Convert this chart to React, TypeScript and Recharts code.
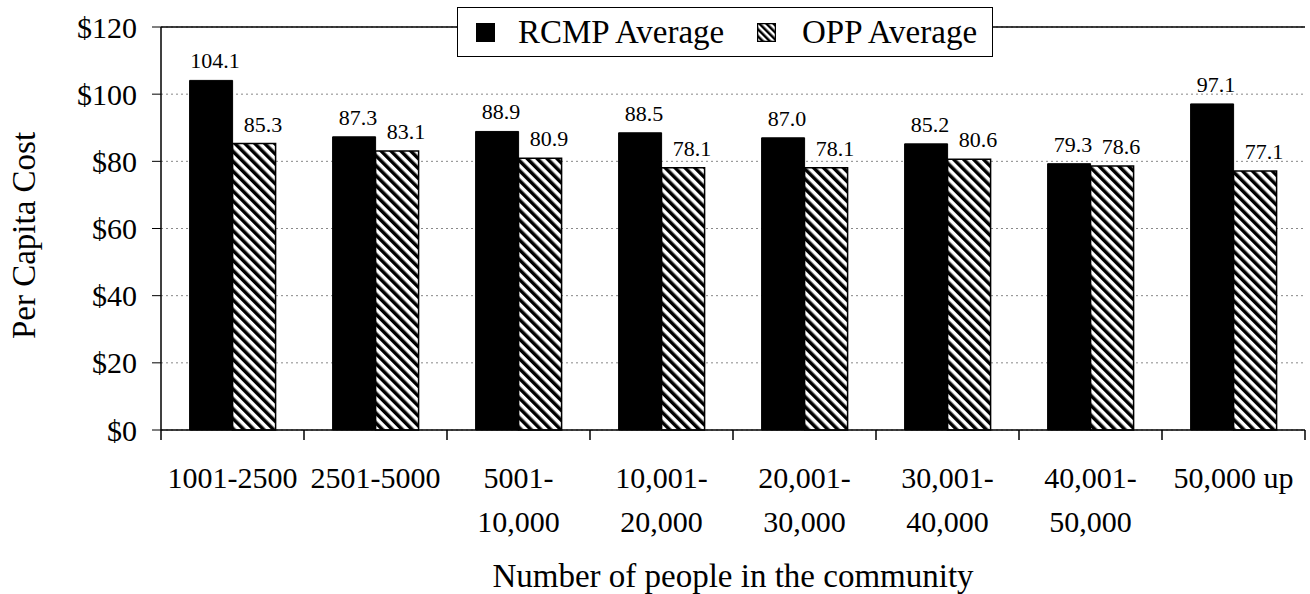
import React from 'react';
import {
  BarChart,
  Bar,
  XAxis,
  YAxis,
  CartesianGrid,
  Legend,
  LabelList,
  ReferenceLine,
} from 'recharts';

const categories = [
  '1001-2500',
  '2501-5000',
  '5001-\n10,000',
  '10,001-\n20,000',
  '20,001-\n30,000',
  '30,001-\n40,000',
  '40,001-\n50,000',
  '50,000 up',
];
const rcmpAverage = [104.1, 87.3, 88.9, 88.5, 87.0, 85.2, 79.3, 97.1];
const oppAverage = [85.3, 83.1, 80.9, 78.1, 78.1, 80.6, 78.6, 77.1];
const yTicks = [0, 20, 40, 60, 80, 100, 120];

const data = categories.map((c, i) => ({
  name: c,
  rcmp: rcmpAverage[i],
  opp: oppAverage[i],
}));

const seriesOrder = ['rcmp', 'opp'];

const FONT = '"Liberation Serif", "Times New Roman", serif';

// category label plus tick marks at the band edges (offset = half bandwidth)
function CategoryTick(props: any) {
  const { x, y, payload, index, visibleTicksCount } = props;
  const lines = String(payload.value).split('\n');
  const half = payload.offset || 0;
  const isLast = index === visibleTicksCount - 1;
  return (
    <g>
      {half > 0 && (
        <line x1={x - half} x2={x - half} y1={y} y2={y + 10} stroke="#000" strokeWidth={1.5} />
      )}
      {half > 0 && isLast && (
        <line x1={x + half} x2={x + half} y1={y} y2={y + 10} stroke="#000" strokeWidth={1.5} />
      )}
      <text x={x} y={y} textAnchor="middle" fontFamily={FONT} fontSize={30} fill="#000">
        {lines.map((l, i) => (
          <tspan key={i} x={x} dy={i === 0 ? 58 : 44}>
            {l}
          </tspan>
        ))}
      </text>
    </g>
  );
}

function renderYTitle(props: any) {
  const { viewBox } = props;
  const x = viewBox.x + 35;
  const y = viewBox.y + viewBox.height / 2 + 7;
  return (
    <text
      x={x}
      y={y}
      transform={`rotate(-90, ${x}, ${y})`}
      textAnchor="middle"
      fontFamily={FONT}
      fontSize={33}
      fill="#000"
    >
      Per Capita Cost
    </text>
  );
}

function renderXTitle(props: any) {
  const { viewBox } = props;
  return (
    <text
      x={viewBox.x + viewBox.width / 2}
      y={viewBox.y + viewBox.height - 7}
      textAnchor="middle"
      fontFamily={FONT}
      fontSize={33}
      fill="#000"
    >
      Number of people in the community
    </text>
  );
}

function LegendSwatch({ hatched }: { hatched: boolean }) {
  return (
    <svg width={19} height={19} style={{ display: 'block' }}>
      <defs>
        <pattern
          id="legendHatch"
          width={5}
          height={5}
          patternUnits="userSpaceOnUse"
          patternTransform="rotate(-45)"
        >
          <rect width={5} height={5} fill="#fff" />
          <rect width={2.5} height={5} fill="#000" />
        </pattern>
      </defs>
      <rect
        x={0.5}
        y={0.5}
        width={18}
        height={18}
        fill={hatched ? 'url(#legendHatch)' : '#000'}
        stroke="#000"
        strokeWidth={1.5}
      />
    </svg>
  );
}

function LegendBox(props: any) {
  const payload = [...(props.payload || [])].sort(
    (a: any, b: any) => seriesOrder.indexOf(a.dataKey) - seriesOrder.indexOf(b.dataKey)
  );
  return (
    <div
      style={{
        width: '100%',
        height: '100%',
        boxSizing: 'border-box',
        border: '1px solid #000',
        background: '#fff',
        display: 'flex',
        alignItems: 'center',
        paddingLeft: 18,
        fontFamily: FONT,
        fontSize: 33,
        color: '#000',
      }}
    >
      {payload.map((entry: any, i: number) => (
        <div
          key={entry.value}
          style={{
            display: 'flex',
            alignItems: 'center',
            width: i === 0 ? 281 : undefined,
          }}
        >
          <LegendSwatch hatched={entry.dataKey === 'opp'} />
          <span style={{ marginLeft: i === 0 ? 23 : 26, whiteSpace: 'nowrap' }}>
            {entry.value}
          </span>
        </div>
      ))}
    </div>
  );
}

export default function App() {
  return (
    <div style={{ position: 'absolute', left: 0, top: 0, background: '#fff' }}>
      <BarChart
        width={1310}
        height={594}
        data={data}
        margin={{ top: 27, right: 5, bottom: 0, left: 0 }}
        barCategoryGap="20%"
        barGap={0}
      >
        <defs>
          <pattern
            id="hatch"
            width={7}
            height={7}
            patternUnits="userSpaceOnUse"
            patternTransform="rotate(-45)"
          >
            <rect width={7} height={7} fill="#fff" />
            <rect width={3.5} height={7} fill="#000" />
          </pattern>
        </defs>
        <XAxis
          xAxisId="edges"
          type="number"
          domain={[0, categories.length]}
          hide
          allowDataOverflow
        />
        <XAxis
          xAxisId="cat"
          dataKey="name"
          height={164}
          tickLine={false}
          tickSize={0}
          tickMargin={0}
          axisLine={{ stroke: '#000', strokeWidth: 1.5 }}
          tick={<CategoryTick />}
          interval={0}
          label={renderXTitle}
        />
        <YAxis
          width={161}
          domain={[0, 120]}
          ticks={yTicks}
          interval={0}
          tickFormatter={(v) => `$${v}`}
          tickSize={9}
          tickMargin={15}
          tick={{ fill: '#000', fontFamily: FONT, fontSize: 30 }}
          tickLine={{ stroke: '#000' }}
          axisLine={{ stroke: '#000', strokeWidth: 1.5 }}
          label={renderYTitle}
        />
        <CartesianGrid
          xAxisId="cat"
          vertical={false}
          stroke="#888"
          strokeDasharray="2 3"
        />
        <ReferenceLine xAxisId="cat" y={120} stroke="#000" strokeWidth={1.5} />
        <ReferenceLine xAxisId="edges" x={categories.length} stroke="#000" strokeWidth={1.5} />
        <Legend
          layout="horizontal"
          verticalAlign="middle"
          align="center"
          width={536}
          height={50}
          wrapperStyle={{ left: 457, top: 7, width: 536, height: 50 }}
          content={<LegendBox />}
        />
        <Bar
          xAxisId="cat"
          dataKey="rcmp"
          name="RCMP Average"
          fill="#000"
          stroke="#000"
          isAnimationActive={false}
        >
          <LabelList
            dataKey="rcmp"
            position="top"
            offset={12}
            dx={4}
            formatter={(v: any) => Number(v).toFixed(1)}
            fill="#000"
            fontFamily={FONT}
            fontSize={22}
          />
        </Bar>
        <Bar
          xAxisId="cat"
          dataKey="opp"
          name="OPP Average"
          fill="url(#hatch)"
          stroke="#000"
          strokeWidth={1.5}
          isAnimationActive={false}
        >
          <LabelList
            dataKey="opp"
            position="top"
            offset={12}
            dx={9}
            formatter={(v: any) => Number(v).toFixed(1)}
            fill="#000"
            fontFamily={FONT}
            fontSize={22}
          />
        </Bar>
      </BarChart>
    </div>
  );
}
